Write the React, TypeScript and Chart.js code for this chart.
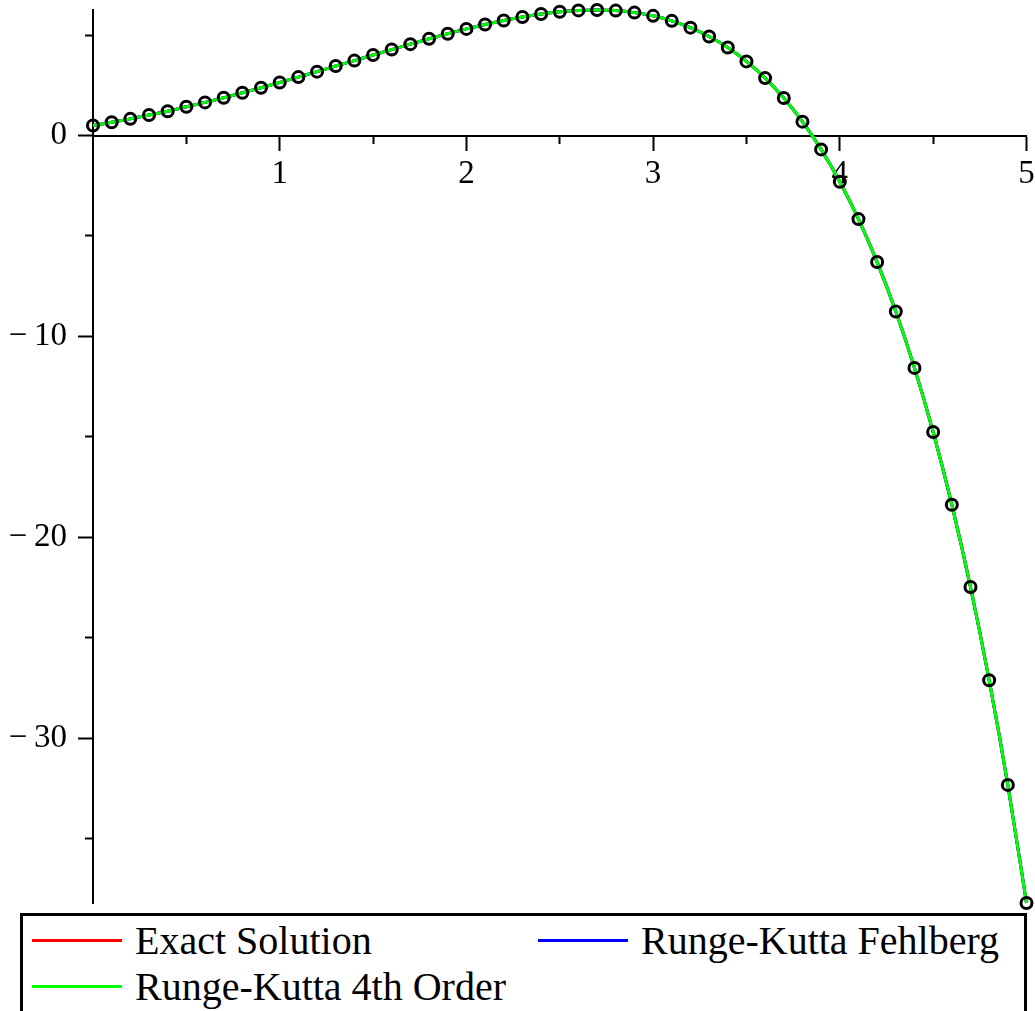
import React, { useEffect, useRef } from "react";
import { Chart, registerables } from "chart.js";

Chart.register(...registerables);

// Sample positions (t) and solution values
const tValues = [
  0, 0.1, 0.2, 0.3, 0.4, 0.5, 0.6, 0.7, 0.8, 0.9,
  1.0, 1.1, 1.2, 1.3, 1.4, 1.5, 1.6, 1.7, 1.8, 1.9,
  2.0, 2.1, 2.2, 2.3, 2.4, 2.5, 2.6, 2.7, 2.8, 2.9,
  3.0, 3.1, 3.2, 3.3, 3.4, 3.5, 3.6, 3.7, 3.8, 3.9,
  4.0, 4.1, 4.2, 4.3, 4.4, 4.5, 4.6, 4.7, 4.8, 4.9, 5.0,
];

// Exact / RKF / RK4 curves coincide at this scale
const exactY = [
  0.5, 0.66, 0.83, 1.02, 1.21, 1.43, 1.65, 1.88, 2.13, 2.38,
  2.64, 2.91, 3.18, 3.46, 3.73, 4.01, 4.28, 4.55, 4.82, 5.07,
  5.31, 5.53, 5.73, 5.9, 6.05, 6.16, 6.23, 6.25, 6.22, 6.12,
  5.96, 5.71, 5.37, 4.93, 4.38, 3.69, 2.86, 1.87, 0.69, -0.69,
  -2.3, -4.16, -6.3, -8.76, -11.57, -14.76, -18.38, -22.48, -27.12, -32.33, -38.21,
];
const rkfY = exactY;
const rk4Y = exactY;
// Circle markers (same positions)
const markerY = exactY;

const xMajorTicks = [1, 2, 3, 4, 5];
const xTickLabels = ["1", "2", "3", "4", "5"];
const xMinorTicks = [0.5, 1.5, 2.5, 3.5, 4.5];
const yMajorTicks = [-30, -20, -10, 0];
const yTickLabels = ["\u2212\u200930", "\u2212\u200920", "\u2212\u200910", "0"];
const yMinorTicks = [-35, -25, -15, -5, 5];

const seriesLabels = ["Exact Solution", "Runge-Kutta Fehlberg", "Runge-Kutta 4th Order"];
const seriesColors = ["#ff0000", "#0000ff", "#00ff00"];

const X_MIN = 0;
const X_MAX = 5;
const Y_MIN = -38.21;
const Y_MAX = 6.25;

const FONT = '"Liberation Serif", "Times New Roman", serif';

const zeroPad = (s: any) => {
  s.paddingLeft = 0;
  s.paddingRight = 0;
  s.paddingTop = 0;
  s.paddingBottom = 0;
};

export default function App() {
  const canvasRef = useRef<HTMLCanvasElement | null>(null);

  useEffect(() => {
    if (!canvasRef.current) return;
    const toPts = (ys: number[]) => tValues.map((t, i) => ({ x: t, y: ys[i] }));
    const lineSeries = [exactY, rkfY, rk4Y];

    const datasets: any[] = lineSeries.map((ys, i) => ({
      label: seriesLabels[i],
      data: toPts(ys),
      borderColor: seriesColors[i],
      backgroundColor: seriesColors[i],
      borderWidth: 3,
      pointRadius: 0,
      cubicInterpolationMode: "monotone",
      fill: false,
      order: 10 - i,
      clip: false,
    }));
    datasets.push({
      label: "markers",
      data: toPts(markerY),
      showLine: false,
      borderColor: "#000",
      backgroundColor: "rgba(0,0,0,0)",
      pointStyle: "circle",
      pointRadius: 5.5,
      pointBorderWidth: 3,
      order: 0,
      clip: false,
    });

    const tickFont = { family: FONT, size: 33 };

    const chart = new Chart(canvasRef.current, {
      type: "line",
      data: { datasets },
      options: {
        animation: false,
        responsive: false,
        devicePixelRatio: 1,
        layout: { padding: { left: 0, right: 7, top: 10, bottom: 108 } },
        plugins: { legend: { display: false }, tooltip: { enabled: false } },
        scales: {
          x: {
            type: "linear",
            min: X_MIN,
            max: X_MAX,
            position: { y: 0 } as any,
            afterBuildTicks: (s: any) => {
              s.ticks = xMajorTicks.map((v) => ({ value: v }));
            },
            afterFit: zeroPad,
            ticks: {
              autoSkip: false,
              maxRotation: 0,
              minRotation: 0,
              padding: 5,
              color: "#000",
              font: tickFont,
              callback: (v: any) => xTickLabels[xMajorTicks.indexOf(Number(v))] ?? "",
            },
            grid: { drawOnChartArea: false, drawTicks: true, tickLength: 14, tickWidth: 2, tickColor: "#000" },
            border: { display: true, color: "#000", width: 2 },
          },
          xMinor: {
            type: "linear",
            axis: "x",
            min: X_MIN,
            max: X_MAX,
            position: { y: 0 } as any,
            afterBuildTicks: (s: any) => {
              s.ticks = xMinorTicks.map((v) => ({ value: v }));
            },
            afterFit: zeroPad,
            ticks: { display: false },
            grid: { drawOnChartArea: false, drawTicks: true, tickLength: 8, tickWidth: 2, tickColor: "#000" },
            border: { display: false },
          },
          // y axis sits at x = 0, which is the left edge of the plot area
          y: {
            type: "linear",
            min: Y_MIN,
            max: Y_MAX,
            position: "left",
            afterBuildTicks: (s: any) => {
              s.ticks = yMajorTicks.map((v) => ({ value: v }));
            },
            afterFit: (s: any) => {
              zeroPad(s);
              s.width = 93;
            },
            ticks: {
              autoSkip: false,
              padding: 11,
              color: "#000",
              font: tickFont,
              crossAlign: "near",
              callback: (v: any) => yTickLabels[yMajorTicks.indexOf(Number(v))] ?? "",
            },
            grid: { drawOnChartArea: false, drawTicks: true, tickLength: 15, tickWidth: 2, tickColor: "#000" },
            border: { display: true, color: "#000", width: 2 },
          },
          yMinor: {
            type: "linear",
            axis: "y",
            min: Y_MIN,
            max: Y_MAX,
            position: { x: 0 } as any,
            afterBuildTicks: (s: any) => {
              s.ticks = yMinorTicks.map((v) => ({ value: v }));
            },
            afterFit: zeroPad,
            ticks: { display: false },
            grid: { drawOnChartArea: false, drawTicks: true, tickLength: 8, tickWidth: 2, tickColor: "#000" },
            border: { display: false },
          },
        } as any,
      },
    });
    return () => chart.destroy();
  }, []);

  return (
    <div
      style={{
        position: "fixed",
        left: 0,
        top: 0,
        width: 1035,
        height: 1011,
        overflow: "hidden",
        background: "#fff",
      }}
    >
      <canvas ref={canvasRef} width={1035} height={1011} style={{ display: "block" }} />
      <div
        style={{
          position: "absolute",
          left: 20,
          top: 913,
          width: 1007,
          height: 130,
          border: "3px solid #000",
          boxSizing: "border-box",
          padding: "2px 0 0 9px",
          display: "grid",
          gridTemplateColumns: "506px 490px",
          gridAutoRows: "45.5px",
          fontFamily: FONT,
          fontSize: 40,
          lineHeight: "45.5px",
          color: "#000",
          background: "#fff",
        }}
      >
        {seriesLabels.map((label, i) => (
          <div key={label} style={{ display: "flex", alignItems: "center", whiteSpace: "nowrap" }}>
            <span
              style={{
                display: "inline-block",
                width: 90,
                height: 3,
                background: seriesColors[i],
                marginRight: 13,
                flex: "none",
              }}
            />
            <span>{label}</span>
          </div>
        ))}
      </div>
    </div>
  );
}
